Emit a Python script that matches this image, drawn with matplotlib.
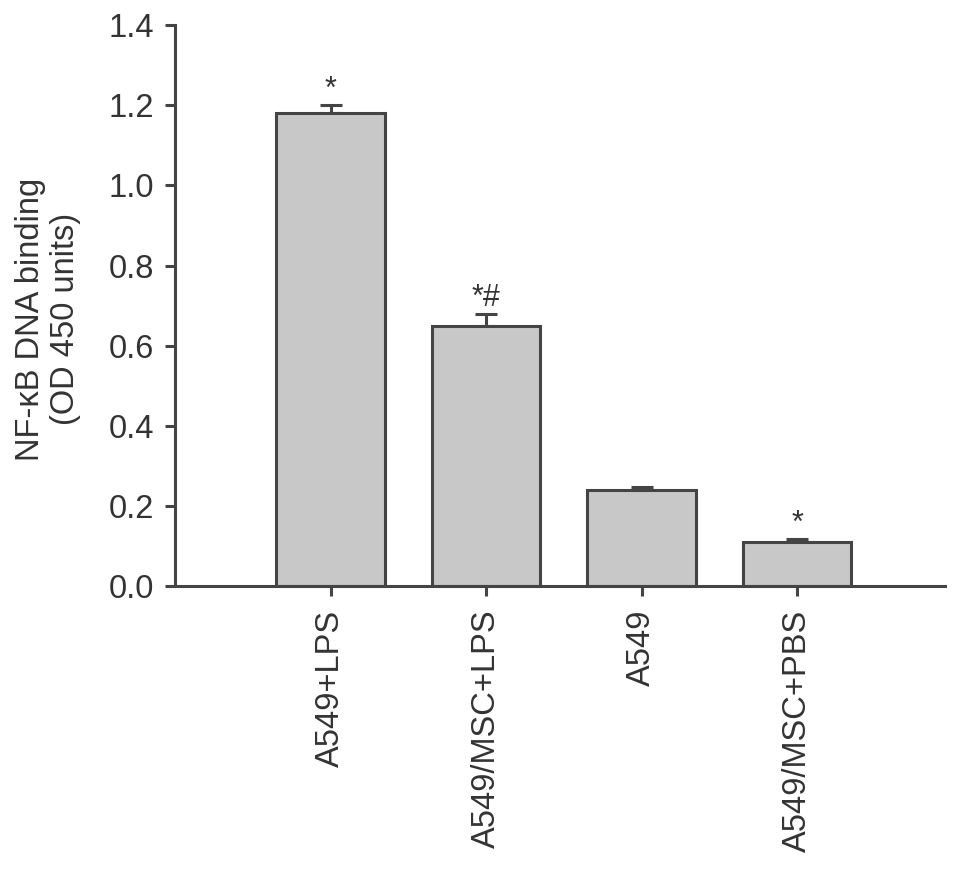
import matplotlib
matplotlib.use("Agg")
import matplotlib.pyplot as plt

plt.rcParams['font.family'] = ['Liberation Sans', 'DejaVu Sans']

# data
groups = ['A549+LPS', 'A549/MSC+LPS', 'A549', 'A549/MSC+PBS']
means = [1.18, 0.65, 0.24, 0.11]
errs = [0.02, 0.03, 0.008, 0.008]
marks = ['*', '*#', '', '*']

edge = '#444444'
txt = '#333333'

fig = plt.figure(figsize=(9.69, 8.75), dpi=100)
ax = fig.add_axes([0.1806, 0.330, 0.7944, 0.6414])

x = range(len(groups))
ax.bar(x, means, width=0.70, color='#c8c8c8', edgecolor=edge, linewidth=2.2, zorder=2)
ax.errorbar(x, means, yerr=[[0]*len(errs), errs], fmt='none', ecolor=edge,
            elinewidth=2.2, capsize=8, capthick=2.2, zorder=1)

for xi, m, e, s in zip(x, means, errs, marks):
    if s:
        ax.text(xi, m + e + 0.018, s, ha='center', va='baseline', fontsize=22, color=txt)

ax.set_xlim(-1.0, 3.95)
ax.set_ylim(0, 1.4)
ax.set_yticks([0.0, 0.2, 0.4, 0.6, 0.8, 1.0, 1.2, 1.4])
ax.set_yticklabels(['0.0', '0.2', '0.4', '0.6', '0.8', '1.0', '1.2', '1.4'])
ax.set_xticks(list(x))
ax.set_xticklabels(groups, rotation=90)

for side in ['top', 'right']:
    ax.spines[side].set_visible(False)
for side in ['left', 'bottom']:
    ax.spines[side].set_color(edge)
    ax.spines[side].set_linewidth(2.2)
ax.spines['bottom'].set_bounds(-1.05, 3.95)
ax.tick_params(axis='both', colors=edge, width=2.2, length=7, labelsize=23.5,
               labelcolor=txt)
ax.tick_params(axis='y', pad=8)
ax.tick_params(axis='x', pad=10)

fig.text(48 / 969, 1 - 319 / 875, 'NF-κB DNA binding\n(OD 450 units)', rotation=90,
         ha='center', va='center', fontsize=23.5, color=txt, linespacing=1.15)

fig.savefig('out.png', dpi=100)
